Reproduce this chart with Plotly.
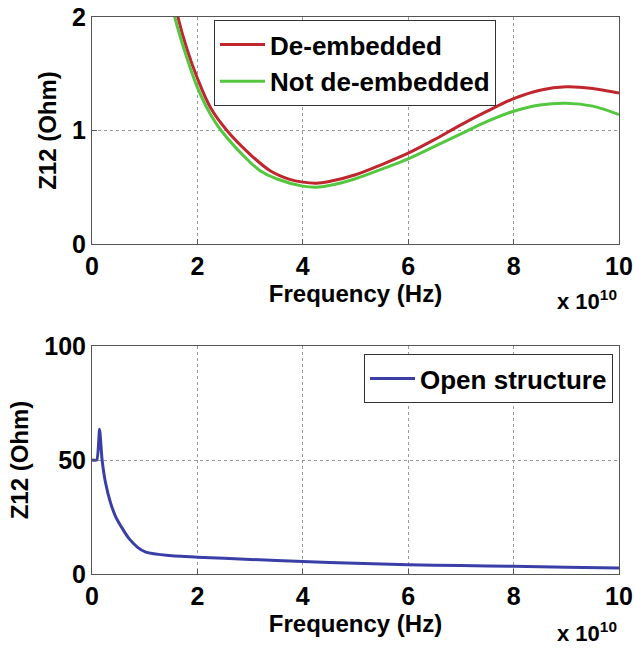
import plotly.graph_objects as go

# Top panel data (frequency in units of 1e10 Hz)
freq_top_red = [1.5, 1.63, 1.8, 2.0, 2.25, 2.56, 3.0, 3.38, 3.75, 4.0, 4.25, 4.5, 5.0, 5.5, 6.0, 6.5, 7.0, 7.5, 8.0, 8.5, 9.0, 9.5, 10.0]
z12_deembedded = [2.3, 2.0, 1.72, 1.46, 1.2, 1.0, 0.79, 0.646, 0.57, 0.545, 0.535, 0.55, 0.61, 0.70, 0.80, 0.92, 1.05, 1.17, 1.28, 1.355, 1.385, 1.37, 1.33]
freq_top_green = [1.45, 1.57, 1.8, 2.0, 2.25, 2.45, 3.0, 3.19, 3.5, 4.0, 4.25, 4.5, 5.0, 5.5, 6.0, 6.5, 7.0, 7.5, 8.0, 8.5, 9.0, 9.5, 10.0]
z12_not_deembedded = [2.25, 2.0, 1.64, 1.38, 1.14, 1.0, 0.72, 0.646, 0.575, 0.51, 0.50, 0.515, 0.575, 0.66, 0.75, 0.86, 0.97, 1.08, 1.17, 1.225, 1.24, 1.215, 1.14]

# Bottom panel data
freq_open = [0.0, 0.09, 0.143, 0.19, 0.257, 0.352, 0.448, 0.575, 0.70, 0.86, 1.02, 1.46, 2.0, 3.0, 4.0, 5.0, 6.0, 7.0, 8.0, 9.0, 10.0]
z12_open = [50, 50, 63.5, 50.4, 40, 31.2, 25.2, 20, 15.6, 11.8, 9.6, 8.1, 7.4, 6.4, 5.5, 4.7, 4.1, 3.7, 3.4, 3.0, 2.6]

x_ticks = [0, 2, 4, 6, 8, 10]
top_yticks = [0, 1, 2]
bot_yticks = [0, 50, 100]

FONT = "Liberation Sans"

fig = go.Figure()
fig.add_trace(go.Scatter(x=freq_top_red, y=z12_deembedded, mode="lines", name="De-embedded",
                         line=dict(color="#c0262e", width=3, shape="spline"), xaxis="x", yaxis="y", legend="legend"))
fig.add_trace(go.Scatter(x=freq_top_green, y=z12_not_deembedded, mode="lines", name="Not de-embedded",
                         line=dict(color="#55c640", width=3, shape="spline"), xaxis="x", yaxis="y", legend="legend"))
fig.add_trace(go.Scatter(x=freq_open, y=z12_open, mode="lines", name="Open structure",
                         line=dict(color="#3a3fa8", width=3, shape="spline", smoothing=0.5), xaxis="x2", yaxis="y2", legend="legend2"))

axis_common = dict(showline=True, linecolor="#555", linewidth=1, mirror=True,
                   showgrid=True, gridcolor="#999", griddash="dot", gridwidth=1,
                   ticks="inside", ticklen=5, tickcolor="#555", zeroline=False, automargin=False,
                   tickfont=dict(family=FONT, size=25, color="black", weight="bold"))

title_font = dict(family=FONT, size=24, color="black", weight="bold")
xd = [92/635, 619/635]
fig.update_layout(
    width=635, height=648, margin=dict(l=0, r=0, t=0, b=0),
    paper_bgcolor="white", plot_bgcolor="white",
    font=dict(family=FONT, color="black", weight="bold"),
    xaxis=dict(domain=xd, range=[0, 10], tickvals=x_ticks, anchor="y",
               title=dict(text="Frequency (Hz)", font=title_font, standoff=0), **axis_common),
    yaxis=dict(domain=[(648-244)/648, (648-17)/648], range=[0, 2], tickvals=top_yticks, anchor="x",
               title=dict(text="Z12 (Ohm)", font=title_font, standoff=8), **axis_common),
    xaxis2=dict(domain=xd, range=[0, 10], tickvals=x_ticks, anchor="y2",
                title=dict(text="Frequency (Hz)", font=title_font, standoff=0), **axis_common),
    yaxis2=dict(domain=[(648-574)/648, (648-346)/648], range=[0, 100], tickvals=bot_yticks, anchor="x2",
                title=dict(text="Z12 (Ohm)", font=title_font, standoff=8), **axis_common),
    legend=dict(x=214/635, y=(648-20)/648, xanchor="left", yanchor="top", bgcolor="white",
                bordercolor="#333", borderwidth=1, itemwidth=45,
                font=dict(family=FONT, size=26, weight="bold"), tracegroupgap=0),
    legend2=dict(x=613/635, y=(648-354)/648, xanchor="right", yanchor="top", bgcolor="white",
                 bordercolor="#333", borderwidth=1, itemwidth=45,
                 font=dict(family=FONT, size=26, weight="bold")),
    showlegend=True,
)

for yy in [(648-300)/648, (648-632)/648]:
    fig.add_annotation(x=619/635, y=yy, xref="paper", yref="paper", xanchor="right", yanchor="middle",
                       text="x 10<sup>10</sup>", showarrow=False,
                       font=dict(family=FONT, size=22, color="black", weight="bold"))

fig.write_html("out.html")
